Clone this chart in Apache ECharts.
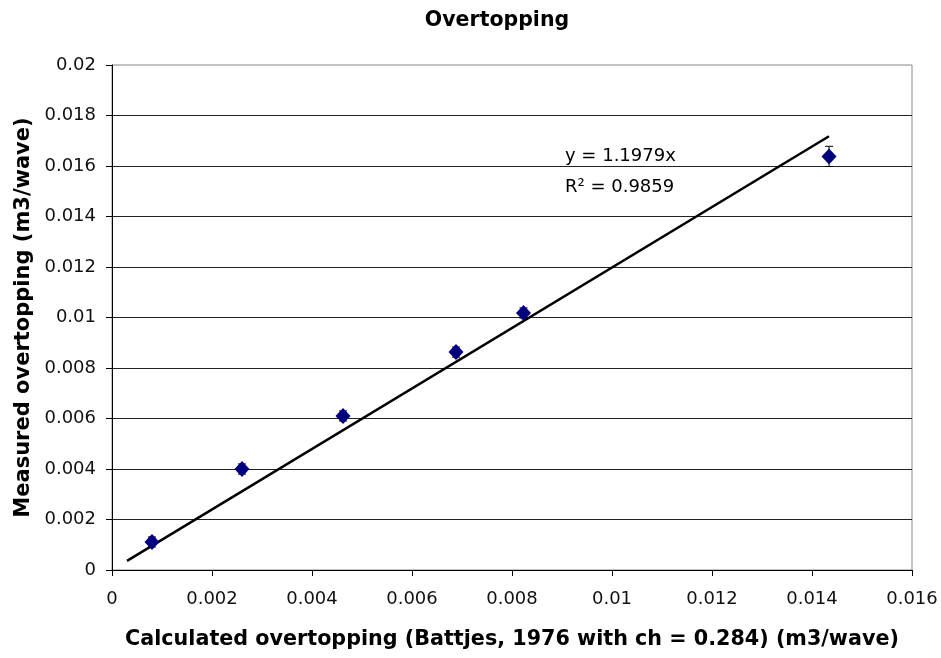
<!DOCTYPE html>
<html><head><meta charset="utf-8">
<script src="https://cdn.jsdelivr.net/npm/echarts@6/dist/echarts.min.js"></script>
<style>html,body{margin:0;padding:0;background:#fff}#c{width:941px;height:658px}</style>
</head><body><div id="c"></div>
<script>
var xCalc = [0.0008, 0.0026, 0.00462, 0.00688, 0.00823, 0.01434];
var yMeas = [0.00111, 0.0040, 0.0061, 0.00863, 0.01018, 0.01638];
var yErr = [0.0002, 0.0002, 0.0002, 0.0002, 0.0002, 0.0004];
var slope = 1.1979;
var trendX = [0.0003, 0.01434];
var eqLine1 = 'y = 1.1979x';
var eqLine2 = 'R\u00b2 = 0.9859';

var pts = xCalc.map(function(x, i){ return [x, yMeas[i]]; });
var errs = xCalc.map(function(x, i){ return [x, yMeas[i] - yErr[i], yMeas[i] + yErr[i]]; });
var trend = trendX.map(function(x){ return [x, slope * x]; });

var chart = echarts.init(document.getElementById('c'));
var font = 'DejaVu Sans, Verdana, sans-serif';
chart.setOption({
  animation: false,
  backgroundColor: '#fff',
  title: {text: 'Overtopping', left: 492, top: 5, textAlign: 'center',
    textStyle: {fontFamily: font, fontSize: 20.5, fontWeight: 'bold', color: '#000'}},
  grid: {left: 112, right: 29, top: 65, bottom: 88, show: true, borderColor: '#888', borderWidth: 1, backgroundColor: '#fff'},
  xAxis: {type: 'value', min: 0, max: 0.016, interval: 0.002,
    name: 'Calculated overtopping (Battjes, 1976 with ch = 0.284) (m3/wave)',
    nameLocation: 'middle', nameGap: 59,
    nameTextStyle: {fontFamily: font, fontSize: 20.7, fontWeight: 'bold', color: '#000'},
    axisLine: {lineStyle: {color: '#000', width: 1}},
    axisTick: {show: true, length: 6, lineStyle: {color: '#000'}},
    axisLabel: {fontFamily: font, fontSize: 18, color: '#111', margin: 20},
    splitLine: {show: false}},
  yAxis: {type: 'value', min: 0, max: 0.02, interval: 0.002,
    name: 'Measured overtopping (m3/wave)',
    nameLocation: 'middle', nameGap: 76,
    nameTextStyle: {fontFamily: font, fontSize: 21, fontWeight: 'bold', color: '#000'},
    axisLine: {show: true, lineStyle: {color: '#000', width: 1}},
    axisTick: {show: true, length: 6, lineStyle: {color: '#000'}},
    axisLabel: {fontFamily: font, fontSize: 18, color: '#111', margin: 16},
    splitLine: {show: true, showMaxLine: false, lineStyle: {color: '#222', width: 1}}},
  series: [
    {type: 'line', data: trend, symbol: 'none', lineStyle: {color: '#000', width: 2.5}, z: 3, silent: true},
    {type: 'custom', data: errs, z: 4,
      renderItem: function(params, api){
        var x = api.value(0);
        var lo = api.coord([x, api.value(1)]);
        var hi = api.coord([x, api.value(2)]);
        var w = 4;
        return {type: 'group', children: [
          {type: 'line', shape: {x1: lo[0], y1: lo[1], x2: hi[0], y2: hi[1]}, style: {stroke: '#000', lineWidth: 1}},
          {type: 'line', shape: {x1: lo[0]-w, y1: lo[1], x2: lo[0]+w, y2: lo[1]}, style: {stroke: '#000', lineWidth: 1}},
          {type: 'line', shape: {x1: hi[0]-w, y1: hi[1], x2: hi[0]+w, y2: hi[1]}, style: {stroke: '#000', lineWidth: 1}}
        ]};
      }},
    {type: 'scatter', data: pts, symbol: 'diamond', symbolSize: [15, 16], z: 5,
      itemStyle: {color: '#00007f', opacity: 1}}
  ],
  graphic: [
    {type: 'text', x: 565, y: 156, z: 10, style: {
      text: eqLine1, fontFamily: font, fontSize: 18, fill: '#000', verticalAlign: 'middle'}},
    {type: 'text', x: 565, y: 187, z: 10, style: {
      text: eqLine2, fontFamily: font, fontSize: 18, fill: '#000', verticalAlign: 'middle'}}
  ]
});
</script></body></html>
